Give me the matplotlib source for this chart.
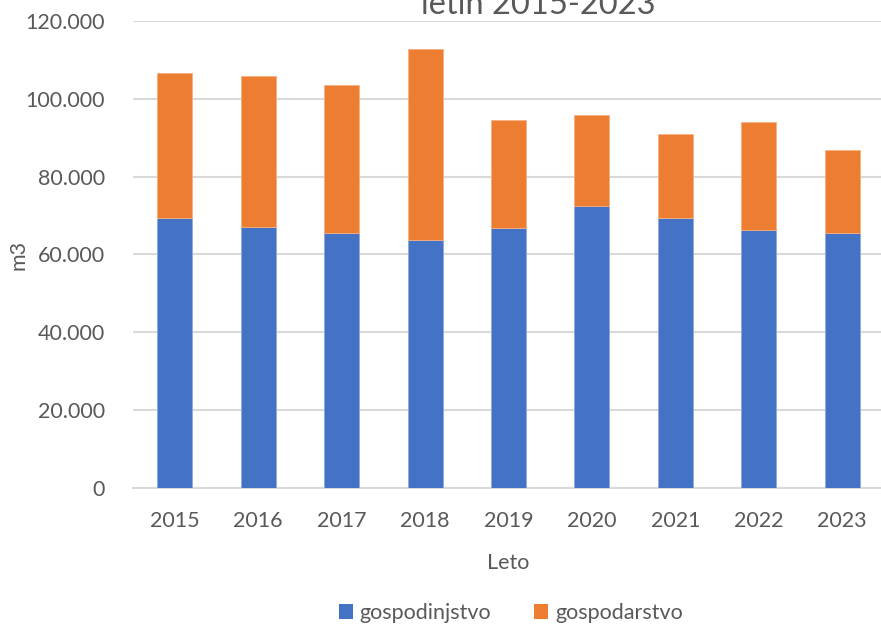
import matplotlib
matplotlib.use("Agg")
import matplotlib.pyplot as plt
from matplotlib.ticker import FuncFormatter, MultipleLocator
from matplotlib.patches import Patch

years = ["2015", "2016", "2017", "2018", "2019", "2020", "2021", "2022", "2023"]
gospodinjstvo = [69400, 67100, 65500, 63700, 66800, 72400, 69400, 66400, 65500]
gospodarstvo = [37100, 38600, 37900, 49100, 27800, 23400, 21500, 27500, 21400]

BLUE = "#4472C4"
ORANGE = "#ED7D31"
TXT = "#595959"
GRID = "#D9D9D9"

plt.rcParams["font.family"] = ["Lato", "DejaVu Sans"]

fig = plt.figure(figsize=(8.81, 6.25), dpi=100)
ax = fig.add_axes([133 / 881, 1 - 488.3 / 625, 751 / 881, (488.3 - 20.7) / 625])

x = list(range(len(years)))
w = 0.42
ax.bar(x, gospodinjstvo, width=w, color=BLUE, edgecolor="#8FAADC", linewidth=0.6, zorder=3)
ax.bar(x, gospodarstvo, width=w, bottom=gospodinjstvo, color=ORANGE, edgecolor="#F4B183",
       linewidth=0.6, zorder=3)

ax.set_xlim(-0.5, len(years) - 0.5)
ax.set_ylim(0, 120000)
ax.yaxis.set_major_locator(MultipleLocator(20000))
ax.yaxis.set_major_formatter(FuncFormatter(lambda v, p: "0" if v == 0 else f"{int(v):,}".replace(",", ".")))
ax.set_xticks(x)
ax.set_xticklabels(years)
ax.grid(axis="y", color=GRID, linewidth=1.5, zorder=0)
ax.set_axisbelow(True)
for s in ["top", "right", "left"]:
    ax.spines[s].set_visible(False)
ax.spines["bottom"].set_color(GRID)
ax.spines["bottom"].set_linewidth(1.5)
ax.tick_params(axis="both", length=0, labelsize=15.5, colors=TXT)
ax.tick_params(axis="x", pad=16)
ax.tick_params(axis="y", pad=20)

ax.set_xlabel("Leto", fontsize=15.5, color=TXT, labelpad=16)
fig.text(19 / 881, 1 - 255 / 625, "m3", rotation=90, ha="center", va="center",
         fontsize=15.5, color=TXT)

fig.text(538 / 881, 1 - 14 / 625, "letih 2015-2023", ha="center", va="baseline",
         fontsize=23.5, color=TXT)

handles = [Patch(facecolor=BLUE, label="gospodinjstvo"), Patch(facecolor=ORANGE, label="gospodarstvo")]
fig.legend(handles=handles, loc="center", bbox_to_anchor=(511 / 881, 1 - 613 / 625), ncol=2,
           frameon=False, fontsize=15.5, labelcolor=TXT, handlelength=0.65, handleheight=0.65,
           handletextpad=0.3, columnspacing=2.0)

fig.savefig("out.png", dpi=100)
